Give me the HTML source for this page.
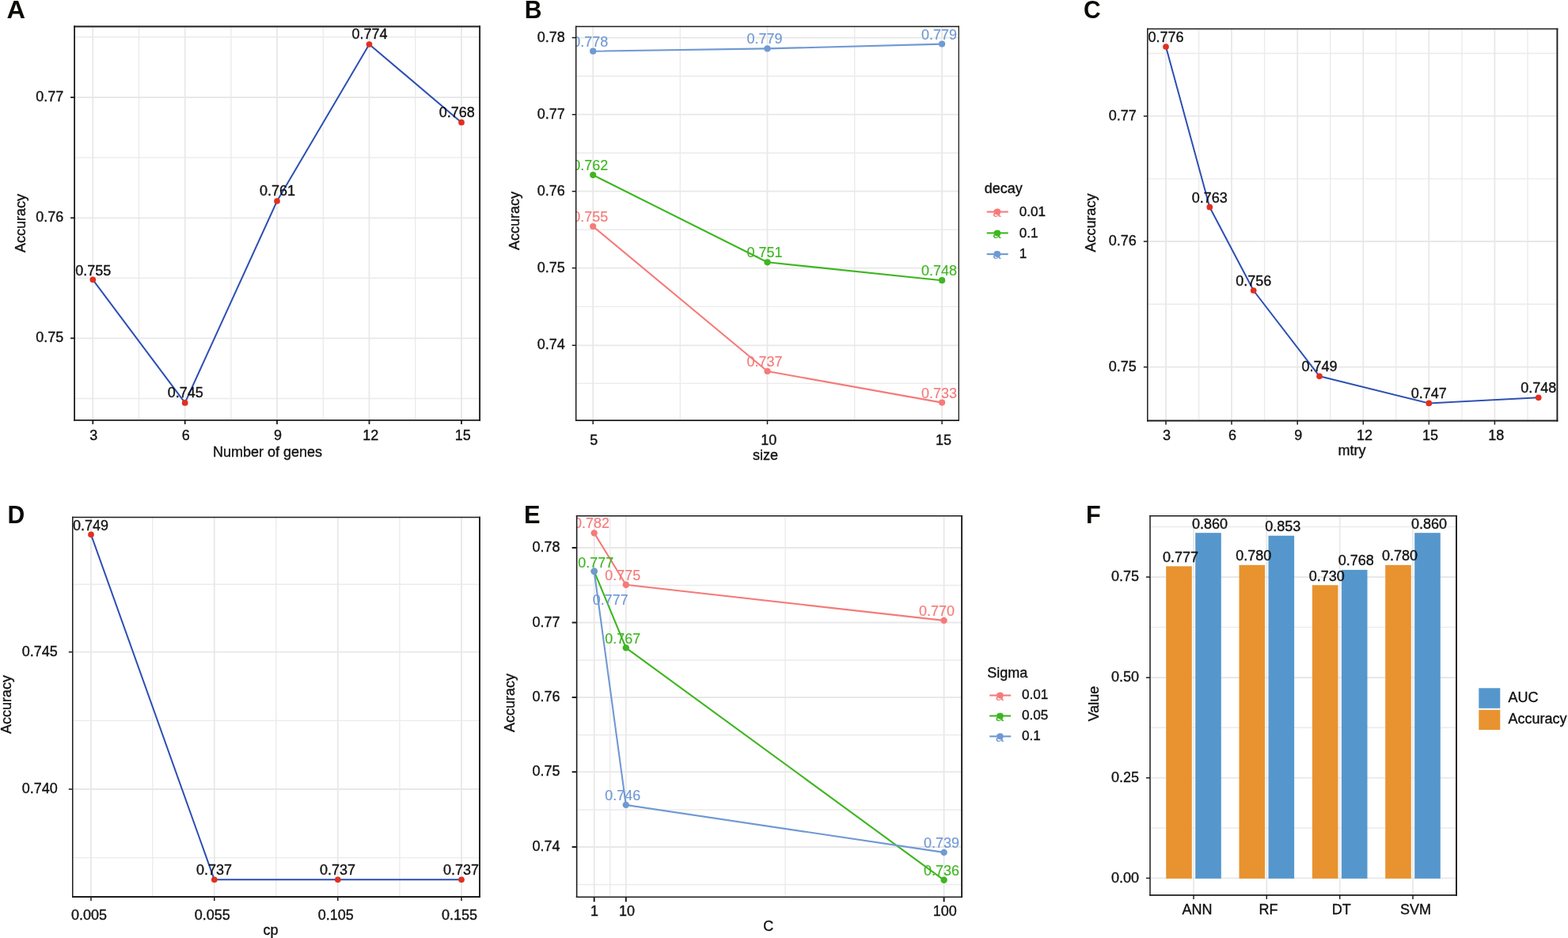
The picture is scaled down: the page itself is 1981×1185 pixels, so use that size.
<!DOCTYPE html>
<html lang="en">
<head>
<meta charset="utf-8">
<title>Figure: model tuning accuracy</title>
<style>
html, body { margin: 0; padding: 0; background: #ffffff; }
body { width: 1981px; height: 1185px; overflow: hidden; }
svg { display: block; font-family: 'Liberation Sans', sans-serif; }
</style>
</head>
<body>
<svg width="1981" height="1185" viewBox="0 0 1981 1185">
<rect width="1981" height="1185" fill="#ffffff"/>
<defs>
<clipPath id="c1"><rect x="94.1" y="33.5" width="512" height="497.4"/></clipPath>
<clipPath id="c2"><rect x="727.7" y="33.4" width="483.6" height="497.7"/></clipPath>
<clipPath id="c3"><rect x="1449.8" y="36.6" width="517.6" height="494.9"/></clipPath>
<clipPath id="c4"><rect x="91.75" y="653.5" width="514.25" height="479.5"/></clipPath>
<clipPath id="c5"><rect x="728.65" y="651.8" width="486.45" height="481.5"/></clipPath>
<clipPath id="c6"><rect x="1453" y="651.7" width="387" height="479.2"/></clipPath>
</defs>
<g clip-path="url(#c1)">
<line x1="175.5" y1="33.5" x2="175.5" y2="530.9" stroke="#ebebeb" stroke-width="1.4"/>
<line x1="291.9" y1="33.5" x2="291.9" y2="530.9" stroke="#ebebeb" stroke-width="1.4"/>
<line x1="408.3" y1="33.5" x2="408.3" y2="530.9" stroke="#ebebeb" stroke-width="1.4"/>
<line x1="524.7" y1="33.5" x2="524.7" y2="530.9" stroke="#ebebeb" stroke-width="1.4"/>
<line x1="94.1" y1="46.8" x2="606.1" y2="46.8" stroke="#ebebeb" stroke-width="1.4"/>
<line x1="94.1" y1="199.1" x2="606.1" y2="199.1" stroke="#ebebeb" stroke-width="1.4"/>
<line x1="94.1" y1="351.3" x2="606.1" y2="351.3" stroke="#ebebeb" stroke-width="1.4"/>
<line x1="94.1" y1="503.5" x2="606.1" y2="503.5" stroke="#ebebeb" stroke-width="1.4"/>
<line x1="117.3" y1="33.5" x2="117.3" y2="530.9" stroke="#e8e8e8" stroke-width="1.8"/>
<line x1="233.7" y1="33.5" x2="233.7" y2="530.9" stroke="#e8e8e8" stroke-width="1.8"/>
<line x1="350" y1="33.5" x2="350" y2="530.9" stroke="#e8e8e8" stroke-width="1.8"/>
<line x1="466.5" y1="33.5" x2="466.5" y2="530.9" stroke="#e8e8e8" stroke-width="1.8"/>
<line x1="583" y1="33.5" x2="583" y2="530.9" stroke="#e8e8e8" stroke-width="1.8"/>
<line x1="94.1" y1="123" x2="606.1" y2="123" stroke="#e8e8e8" stroke-width="1.8"/>
<line x1="94.1" y1="275.3" x2="606.1" y2="275.3" stroke="#e8e8e8" stroke-width="1.8"/>
<line x1="94.1" y1="427.3" x2="606.1" y2="427.3" stroke="#e8e8e8" stroke-width="1.8"/>
<polyline points="117.3,353.3 233.7,508.9 350,254 466.5,56 583,154.7" fill="none" stroke="#2d4fb3" stroke-width="2.0" stroke-linejoin="round"/>
<circle cx="117.3" cy="353.3" r="3.85" fill="#e0301e"/>
<circle cx="233.7" cy="508.9" r="3.85" fill="#e0301e"/>
<circle cx="350" cy="254" r="3.85" fill="#e0301e"/>
<circle cx="466.5" cy="56" r="3.85" fill="#e0301e"/>
<circle cx="583" cy="154.7" r="3.85" fill="#e0301e"/>
<text x="117.8" y="347.5" font-size="18" text-anchor="middle" fill="#111111" stroke="#111111" stroke-width="0.35">0.755</text>
<text x="234.2" y="501.9" font-size="18" text-anchor="middle" fill="#111111" stroke="#111111" stroke-width="0.35">0.745</text>
<text x="350.5" y="247" font-size="18" text-anchor="middle" fill="#111111" stroke="#111111" stroke-width="0.35">0.761</text>
<text x="467" y="49" font-size="18" text-anchor="middle" fill="#111111" stroke="#111111" stroke-width="0.35">0.774</text>
<text x="577.2" y="147.7" font-size="18" text-anchor="middle" fill="#111111" stroke="#111111" stroke-width="0.35">0.768</text>
</g>
<g stroke="#1c1c1c" fill="none">
<line x1="94.1" y1="32.6" x2="94.1" y2="531.85" stroke-width="1.8"/>
<line x1="606.1" y1="32.6" x2="606.1" y2="531.85" stroke-width="1.9"/>
<line x1="93.2" y1="33.5" x2="607.05" y2="33.5" stroke-width="1.8"/>
<line x1="93.2" y1="530.9" x2="607.05" y2="530.9" stroke-width="1.9"/>
</g>
<line x1="117.3" y1="530.9" x2="117.3" y2="535.9" stroke="#1c1c1c" stroke-width="1.8"/>
<text x="118.3" y="555.9" font-size="18" text-anchor="middle" fill="#111111" stroke="#111111" stroke-width="0.35">3</text>
<line x1="233.7" y1="530.9" x2="233.7" y2="535.9" stroke="#1c1c1c" stroke-width="1.8"/>
<text x="234.7" y="555.9" font-size="18" text-anchor="middle" fill="#111111" stroke="#111111" stroke-width="0.35">6</text>
<line x1="350" y1="530.9" x2="350" y2="535.9" stroke="#1c1c1c" stroke-width="1.8"/>
<text x="351" y="555.9" font-size="18" text-anchor="middle" fill="#111111" stroke="#111111" stroke-width="0.35">9</text>
<line x1="466.5" y1="530.9" x2="466.5" y2="535.9" stroke="#1c1c1c" stroke-width="1.8"/>
<text x="468.3" y="555.9" font-size="18" text-anchor="middle" fill="#111111" stroke="#111111" stroke-width="0.35">12</text>
<line x1="583" y1="530.9" x2="583" y2="535.9" stroke="#1c1c1c" stroke-width="1.8"/>
<text x="584.8" y="555.9" font-size="18" text-anchor="middle" fill="#111111" stroke="#111111" stroke-width="0.35">15</text>
<line x1="89.1" y1="123" x2="94.1" y2="123" stroke="#1c1c1c" stroke-width="1.8"/>
<text x="80.2" y="128.1" font-size="18" text-anchor="end" fill="#111111" stroke="#111111" stroke-width="0.35">0.77</text>
<line x1="89.1" y1="275.3" x2="94.1" y2="275.3" stroke="#1c1c1c" stroke-width="1.8"/>
<text x="80.2" y="280.4" font-size="18" text-anchor="end" fill="#111111" stroke="#111111" stroke-width="0.35">0.76</text>
<line x1="89.1" y1="427.3" x2="94.1" y2="427.3" stroke="#1c1c1c" stroke-width="1.8"/>
<text x="80.2" y="432.4" font-size="18" text-anchor="end" fill="#111111" stroke="#111111" stroke-width="0.35">0.75</text>
<text x="338.1" y="577" font-size="18" text-anchor="middle" fill="#111111" stroke="#111111" stroke-width="0.35">Number of genes</text>
<text x="32" y="282" font-size="18" text-anchor="middle" fill="#111111" stroke="#111111" stroke-width="0.35" transform="rotate(-90 32 282)">Accuracy</text>
<text transform="translate(8.4 23) scale(1.045 1)" font-size="31.2" font-weight="bold" fill="#0a0a06">A</text>
<g clip-path="url(#c2)">
<line x1="859.3" y1="33.4" x2="859.3" y2="531.1" stroke="#ebebeb" stroke-width="1.4"/>
<line x1="1079.7" y1="33.4" x2="1079.7" y2="531.1" stroke="#ebebeb" stroke-width="1.4"/>
<line x1="727.7" y1="96.2" x2="1211.3" y2="96.2" stroke="#ebebeb" stroke-width="1.4"/>
<line x1="727.7" y1="193.3" x2="1211.3" y2="193.3" stroke="#ebebeb" stroke-width="1.4"/>
<line x1="727.7" y1="290.2" x2="1211.3" y2="290.2" stroke="#ebebeb" stroke-width="1.4"/>
<line x1="727.7" y1="387.4" x2="1211.3" y2="387.4" stroke="#ebebeb" stroke-width="1.4"/>
<line x1="727.7" y1="484.4" x2="1211.3" y2="484.4" stroke="#ebebeb" stroke-width="1.4"/>
<line x1="749.2" y1="33.4" x2="749.2" y2="531.1" stroke="#e8e8e8" stroke-width="1.8"/>
<line x1="969.5" y1="33.4" x2="969.5" y2="531.1" stroke="#e8e8e8" stroke-width="1.8"/>
<line x1="1190.1" y1="33.4" x2="1190.1" y2="531.1" stroke="#e8e8e8" stroke-width="1.8"/>
<line x1="727.7" y1="47.6" x2="1211.3" y2="47.6" stroke="#e8e8e8" stroke-width="1.8"/>
<line x1="727.7" y1="144.7" x2="1211.3" y2="144.7" stroke="#e8e8e8" stroke-width="1.8"/>
<line x1="727.7" y1="241.7" x2="1211.3" y2="241.7" stroke="#e8e8e8" stroke-width="1.8"/>
<line x1="727.7" y1="338.6" x2="1211.3" y2="338.6" stroke="#e8e8e8" stroke-width="1.8"/>
<line x1="727.7" y1="436.3" x2="1211.3" y2="436.3" stroke="#e8e8e8" stroke-width="1.8"/>
<polyline points="749.2,286 969.5,469 1190.1,508.6" fill="none" stroke="#f57b79" stroke-width="2.1" stroke-linejoin="round"/>
<polyline points="749.2,221.1 969.5,331.3 1190.1,354.2" fill="none" stroke="#3eb621" stroke-width="2.1" stroke-linejoin="round"/>
<polyline points="749.2,64.7 969.5,61.4 1190.1,55.6" fill="none" stroke="#7099d3" stroke-width="2.1" stroke-linejoin="round"/>
<circle cx="749.2" cy="286" r="4.1" fill="#f57b79"/>
<circle cx="969.5" cy="469" r="4.1" fill="#f57b79"/>
<circle cx="1190.1" cy="508.6" r="4.1" fill="#f57b79"/>
<circle cx="749.2" cy="221.1" r="4.1" fill="#3eb621"/>
<circle cx="969.5" cy="331.3" r="4.1" fill="#3eb621"/>
<circle cx="1190.1" cy="354.2" r="4.1" fill="#3eb621"/>
<circle cx="749.2" cy="64.7" r="4.1" fill="#7099d3"/>
<circle cx="969.5" cy="61.4" r="4.1" fill="#7099d3"/>
<circle cx="1190.1" cy="55.6" r="4.1" fill="#7099d3"/>
<text x="745.7" y="280" font-size="18" text-anchor="middle" fill="#f57b79" stroke="#f57b79" stroke-width="0.15">0.755</text>
<text x="966" y="463" font-size="18" text-anchor="middle" fill="#f57b79" stroke="#f57b79" stroke-width="0.15">0.737</text>
<text x="1186.6" y="502.6" font-size="18" text-anchor="middle" fill="#f57b79" stroke="#f57b79" stroke-width="0.15">0.733</text>
<text x="745.7" y="215.1" font-size="18" text-anchor="middle" fill="#3eb621" stroke="#3eb621" stroke-width="0.15">0.762</text>
<text x="966" y="325.3" font-size="18" text-anchor="middle" fill="#3eb621" stroke="#3eb621" stroke-width="0.15">0.751</text>
<text x="1186.6" y="348.2" font-size="18" text-anchor="middle" fill="#3eb621" stroke="#3eb621" stroke-width="0.15">0.748</text>
<text x="745.7" y="58.7" font-size="18" text-anchor="middle" fill="#7099d3" stroke="#7099d3" stroke-width="0.15">0.778</text>
<text x="966" y="55.4" font-size="18" text-anchor="middle" fill="#7099d3" stroke="#7099d3" stroke-width="0.15">0.779</text>
<text x="1186.6" y="49.6" font-size="18" text-anchor="middle" fill="#7099d3" stroke="#7099d3" stroke-width="0.15">0.779</text>
</g>
<g stroke="#1c1c1c" fill="none">
<line x1="727.7" y1="32.65" x2="727.7" y2="531.9" stroke-width="1.5"/>
<line x1="1211.3" y1="32.65" x2="1211.3" y2="531.9" stroke-width="1.3"/>
<line x1="726.95" y1="33.4" x2="1211.95" y2="33.4" stroke-width="1.5"/>
<line x1="726.95" y1="531.1" x2="1211.95" y2="531.1" stroke-width="1.6"/>
</g>
<line x1="749.2" y1="531.1" x2="749.2" y2="536.1" stroke="#1c1c1c" stroke-width="1.5"/>
<text x="750.2" y="561.6" font-size="18" text-anchor="middle" fill="#111111" stroke="#111111" stroke-width="0.35">5</text>
<line x1="969.5" y1="531.1" x2="969.5" y2="536.1" stroke="#1c1c1c" stroke-width="1.5"/>
<text x="971.3" y="561.6" font-size="18" text-anchor="middle" fill="#111111" stroke="#111111" stroke-width="0.35">10</text>
<line x1="1190.1" y1="531.1" x2="1190.1" y2="536.1" stroke="#1c1c1c" stroke-width="1.5"/>
<text x="1191.9" y="561.6" font-size="18" text-anchor="middle" fill="#111111" stroke="#111111" stroke-width="0.35">15</text>
<line x1="722.7" y1="47.6" x2="727.7" y2="47.6" stroke="#1c1c1c" stroke-width="1.5"/>
<text x="713.8" y="52.7" font-size="18" text-anchor="end" fill="#111111" stroke="#111111" stroke-width="0.35">0.78</text>
<line x1="722.7" y1="144.7" x2="727.7" y2="144.7" stroke="#1c1c1c" stroke-width="1.5"/>
<text x="713.8" y="149.8" font-size="18" text-anchor="end" fill="#111111" stroke="#111111" stroke-width="0.35">0.77</text>
<line x1="722.7" y1="241.7" x2="727.7" y2="241.7" stroke="#1c1c1c" stroke-width="1.5"/>
<text x="713.8" y="246.8" font-size="18" text-anchor="end" fill="#111111" stroke="#111111" stroke-width="0.35">0.76</text>
<line x1="722.7" y1="338.6" x2="727.7" y2="338.6" stroke="#1c1c1c" stroke-width="1.5"/>
<text x="713.8" y="343.7" font-size="18" text-anchor="end" fill="#111111" stroke="#111111" stroke-width="0.35">0.75</text>
<line x1="722.7" y1="436.3" x2="727.7" y2="436.3" stroke="#1c1c1c" stroke-width="1.5"/>
<text x="713.8" y="441.4" font-size="18" text-anchor="end" fill="#111111" stroke="#111111" stroke-width="0.35">0.74</text>
<text x="967" y="581" font-size="18" text-anchor="middle" fill="#111111" stroke="#111111" stroke-width="0.35">size</text>
<text x="655.6" y="279" font-size="18" text-anchor="middle" fill="#111111" stroke="#111111" stroke-width="0.35" transform="rotate(-90 655.6 279)">Accuracy</text>
<text transform="translate(662.7 23) scale(0.965 1)" font-size="31.2" font-weight="bold" fill="#0a0a06">B</text>
<g clip-path="url(#c3)">
<line x1="1514.6" y1="36.6" x2="1514.6" y2="531.5" stroke="#ebebeb" stroke-width="1.4"/>
<line x1="1597.6" y1="36.6" x2="1597.6" y2="531.5" stroke="#ebebeb" stroke-width="1.4"/>
<line x1="1680.7" y1="36.6" x2="1680.7" y2="531.5" stroke="#ebebeb" stroke-width="1.4"/>
<line x1="1763.8" y1="36.6" x2="1763.8" y2="531.5" stroke="#ebebeb" stroke-width="1.4"/>
<line x1="1846.9" y1="36.6" x2="1846.9" y2="531.5" stroke="#ebebeb" stroke-width="1.4"/>
<line x1="1930" y1="36.6" x2="1930" y2="531.5" stroke="#ebebeb" stroke-width="1.4"/>
<line x1="1449.8" y1="67.5" x2="1967.4" y2="67.5" stroke="#ebebeb" stroke-width="1.4"/>
<line x1="1449.8" y1="225.9" x2="1967.4" y2="225.9" stroke="#ebebeb" stroke-width="1.4"/>
<line x1="1449.8" y1="384.3" x2="1967.4" y2="384.3" stroke="#ebebeb" stroke-width="1.4"/>
<line x1="1473" y1="36.6" x2="1473" y2="531.5" stroke="#e8e8e8" stroke-width="1.8"/>
<line x1="1556" y1="36.6" x2="1556" y2="531.5" stroke="#e8e8e8" stroke-width="1.8"/>
<line x1="1639.2" y1="36.6" x2="1639.2" y2="531.5" stroke="#e8e8e8" stroke-width="1.8"/>
<line x1="1722.3" y1="36.6" x2="1722.3" y2="531.5" stroke="#e8e8e8" stroke-width="1.8"/>
<line x1="1805.3" y1="36.6" x2="1805.3" y2="531.5" stroke="#e8e8e8" stroke-width="1.8"/>
<line x1="1888.4" y1="36.6" x2="1888.4" y2="531.5" stroke="#e8e8e8" stroke-width="1.8"/>
<line x1="1449.8" y1="146.7" x2="1967.4" y2="146.7" stroke="#e8e8e8" stroke-width="1.8"/>
<line x1="1449.8" y1="305" x2="1967.4" y2="305" stroke="#e8e8e8" stroke-width="1.8"/>
<line x1="1449.8" y1="463.7" x2="1967.4" y2="463.7" stroke="#e8e8e8" stroke-width="1.8"/>
<polyline points="1473,59 1528.3,261.7 1583.7,367 1667,475.3 1805.3,509.4 1943.7,502.3" fill="none" stroke="#2d4fb3" stroke-width="2.0" stroke-linejoin="round"/>
<circle cx="1473" cy="59" r="3.85" fill="#e0301e"/>
<circle cx="1528.3" cy="261.7" r="3.85" fill="#e0301e"/>
<circle cx="1583.7" cy="367" r="3.85" fill="#e0301e"/>
<circle cx="1667" cy="475.3" r="3.85" fill="#e0301e"/>
<circle cx="1805.3" cy="509.4" r="3.85" fill="#e0301e"/>
<circle cx="1943.7" cy="502.3" r="3.85" fill="#e0301e"/>
<text x="1473" y="52.8" font-size="18" text-anchor="middle" fill="#111111" stroke="#111111" stroke-width="0.35">0.776</text>
<text x="1528.3" y="255.5" font-size="18" text-anchor="middle" fill="#111111" stroke="#111111" stroke-width="0.35">0.763</text>
<text x="1583.7" y="360.8" font-size="18" text-anchor="middle" fill="#111111" stroke="#111111" stroke-width="0.35">0.756</text>
<text x="1667" y="469.1" font-size="18" text-anchor="middle" fill="#111111" stroke="#111111" stroke-width="0.35">0.749</text>
<text x="1805.3" y="503.2" font-size="18" text-anchor="middle" fill="#111111" stroke="#111111" stroke-width="0.35">0.747</text>
<text x="1943.7" y="496.1" font-size="18" text-anchor="middle" fill="#111111" stroke="#111111" stroke-width="0.35">0.748</text>
</g>
<g stroke="#1c1c1c" fill="none">
<line x1="1449.8" y1="35.85" x2="1449.8" y2="532.45" stroke-width="1.5"/>
<line x1="1967.4" y1="35.85" x2="1967.4" y2="532.45" stroke-width="1.9"/>
<line x1="1449.05" y1="36.6" x2="1968.35" y2="36.6" stroke-width="1.5"/>
<line x1="1449.05" y1="531.5" x2="1968.35" y2="531.5" stroke-width="1.9"/>
</g>
<line x1="1473" y1="531.5" x2="1473" y2="536.5" stroke="#1c1c1c" stroke-width="1.5"/>
<text x="1474" y="556.3" font-size="18" text-anchor="middle" fill="#111111" stroke="#111111" stroke-width="0.35">3</text>
<line x1="1556" y1="531.5" x2="1556" y2="536.5" stroke="#1c1c1c" stroke-width="1.5"/>
<text x="1557" y="556.3" font-size="18" text-anchor="middle" fill="#111111" stroke="#111111" stroke-width="0.35">6</text>
<line x1="1639.2" y1="531.5" x2="1639.2" y2="536.5" stroke="#1c1c1c" stroke-width="1.5"/>
<text x="1640.2" y="556.3" font-size="18" text-anchor="middle" fill="#111111" stroke="#111111" stroke-width="0.35">9</text>
<line x1="1722.3" y1="531.5" x2="1722.3" y2="536.5" stroke="#1c1c1c" stroke-width="1.5"/>
<text x="1724.1" y="556.3" font-size="18" text-anchor="middle" fill="#111111" stroke="#111111" stroke-width="0.35">12</text>
<line x1="1805.3" y1="531.5" x2="1805.3" y2="536.5" stroke="#1c1c1c" stroke-width="1.5"/>
<text x="1807.1" y="556.3" font-size="18" text-anchor="middle" fill="#111111" stroke="#111111" stroke-width="0.35">15</text>
<line x1="1888.4" y1="531.5" x2="1888.4" y2="536.5" stroke="#1c1c1c" stroke-width="1.5"/>
<text x="1890.2" y="556.3" font-size="18" text-anchor="middle" fill="#111111" stroke="#111111" stroke-width="0.35">18</text>
<line x1="1444.8" y1="146.7" x2="1449.8" y2="146.7" stroke="#1c1c1c" stroke-width="1.5"/>
<text x="1435.9" y="151.8" font-size="18" text-anchor="end" fill="#111111" stroke="#111111" stroke-width="0.35">0.77</text>
<line x1="1444.8" y1="305" x2="1449.8" y2="305" stroke="#1c1c1c" stroke-width="1.5"/>
<text x="1435.9" y="310.1" font-size="18" text-anchor="end" fill="#111111" stroke="#111111" stroke-width="0.35">0.76</text>
<line x1="1444.8" y1="463.7" x2="1449.8" y2="463.7" stroke="#1c1c1c" stroke-width="1.5"/>
<text x="1435.9" y="468.8" font-size="18" text-anchor="end" fill="#111111" stroke="#111111" stroke-width="0.35">0.75</text>
<text x="1708" y="575" font-size="18" text-anchor="middle" fill="#111111" stroke="#111111" stroke-width="0.35">mtry</text>
<text x="1384" y="281.4" font-size="18" text-anchor="middle" fill="#111111" stroke="#111111" stroke-width="0.35" transform="rotate(-90 1384 281.4)">Accuracy</text>
<text transform="translate(1368.9 23) scale(0.96 1)" font-size="31.2" font-weight="bold" fill="#0a0a06">C</text>
<g clip-path="url(#c4)">
<line x1="192.8" y1="653.5" x2="192.8" y2="1133" stroke="#ebebeb" stroke-width="1.4"/>
<line x1="348.9" y1="653.5" x2="348.9" y2="1133" stroke="#ebebeb" stroke-width="1.4"/>
<line x1="504.9" y1="653.5" x2="504.9" y2="1133" stroke="#ebebeb" stroke-width="1.4"/>
<line x1="91.75" y1="738.2" x2="606" y2="738.2" stroke="#ebebeb" stroke-width="1.4"/>
<line x1="91.75" y1="910.4" x2="606" y2="910.4" stroke="#ebebeb" stroke-width="1.4"/>
<line x1="91.75" y1="1083.6" x2="606" y2="1083.6" stroke="#ebebeb" stroke-width="1.4"/>
<line x1="115" y1="653.5" x2="115" y2="1133" stroke="#e8e8e8" stroke-width="1.8"/>
<line x1="270.8" y1="653.5" x2="270.8" y2="1133" stroke="#e8e8e8" stroke-width="1.8"/>
<line x1="426.8" y1="653.5" x2="426.8" y2="1133" stroke="#e8e8e8" stroke-width="1.8"/>
<line x1="583" y1="653.5" x2="583" y2="1133" stroke="#e8e8e8" stroke-width="1.8"/>
<line x1="91.75" y1="823.7" x2="606" y2="823.7" stroke="#e8e8e8" stroke-width="1.8"/>
<line x1="91.75" y1="997" x2="606" y2="997" stroke="#e8e8e8" stroke-width="1.8"/>
<polyline points="115,675.3 270.8,1111.3 426.8,1111.3 583,1111.3" fill="none" stroke="#2d4fb3" stroke-width="2.0" stroke-linejoin="round"/>
<circle cx="115" cy="675.3" r="3.85" fill="#e0301e"/>
<circle cx="270.8" cy="1111.3" r="3.85" fill="#e0301e"/>
<circle cx="426.8" cy="1111.3" r="3.85" fill="#e0301e"/>
<circle cx="583" cy="1111.3" r="3.85" fill="#e0301e"/>
<text x="114.6" y="670.3" font-size="18" text-anchor="middle" fill="#111111" stroke="#111111" stroke-width="0.35">0.749</text>
<text x="270.4" y="1105.1" font-size="18" text-anchor="middle" fill="#111111" stroke="#111111" stroke-width="0.35">0.737</text>
<text x="426.4" y="1105.1" font-size="18" text-anchor="middle" fill="#111111" stroke="#111111" stroke-width="0.35">0.737</text>
<text x="582.6" y="1105.1" font-size="18" text-anchor="middle" fill="#111111" stroke="#111111" stroke-width="0.35">0.737</text>
</g>
<g stroke="#1c1c1c" fill="none">
<line x1="91.75" y1="652.75" x2="91.75" y2="1133.95" stroke-width="1.5"/>
<line x1="606" y1="652.75" x2="606" y2="1133.95" stroke-width="1.9"/>
<line x1="91" y1="653.5" x2="606.95" y2="653.5" stroke-width="1.5"/>
<line x1="91" y1="1133" x2="606.95" y2="1133" stroke-width="1.9"/>
</g>
<line x1="115" y1="1133" x2="115" y2="1138" stroke="#1c1c1c" stroke-width="1.5"/>
<text x="112.4" y="1161.6" font-size="18" text-anchor="middle" fill="#111111" stroke="#111111" stroke-width="0.35">0.005</text>
<line x1="270.8" y1="1133" x2="270.8" y2="1138" stroke="#1c1c1c" stroke-width="1.5"/>
<text x="268.2" y="1161.6" font-size="18" text-anchor="middle" fill="#111111" stroke="#111111" stroke-width="0.35">0.055</text>
<line x1="426.8" y1="1133" x2="426.8" y2="1138" stroke="#1c1c1c" stroke-width="1.5"/>
<text x="424.2" y="1161.6" font-size="18" text-anchor="middle" fill="#111111" stroke="#111111" stroke-width="0.35">0.105</text>
<line x1="583" y1="1133" x2="583" y2="1138" stroke="#1c1c1c" stroke-width="1.5"/>
<text x="580.4" y="1161.6" font-size="18" text-anchor="middle" fill="#111111" stroke="#111111" stroke-width="0.35">0.155</text>
<line x1="86.75" y1="823.7" x2="91.75" y2="823.7" stroke="#1c1c1c" stroke-width="1.5"/>
<text x="72.75" y="828.8" font-size="18" text-anchor="end" fill="#111111" stroke="#111111" stroke-width="0.35">0.745</text>
<line x1="86.75" y1="997" x2="91.75" y2="997" stroke="#1c1c1c" stroke-width="1.5"/>
<text x="72.75" y="1002.1" font-size="18" text-anchor="end" fill="#111111" stroke="#111111" stroke-width="0.35">0.740</text>
<text x="342" y="1181" font-size="18" text-anchor="middle" fill="#111111" stroke="#111111" stroke-width="0.35">cp</text>
<text x="14" y="890" font-size="18" text-anchor="middle" fill="#111111" stroke="#111111" stroke-width="0.35" transform="rotate(-90 14 890)">Accuracy</text>
<text transform="translate(9.4 661) scale(0.965 1)" font-size="31.2" font-weight="bold" fill="#0a0a06">D</text>
<g clip-path="url(#c5)">
<line x1="770.8" y1="651.8" x2="770.8" y2="1133.3" stroke="#ebebeb" stroke-width="1.4"/>
<line x1="992.1" y1="651.8" x2="992.1" y2="1133.3" stroke="#ebebeb" stroke-width="1.4"/>
<line x1="728.65" y1="739.5" x2="1215.1" y2="739.5" stroke="#ebebeb" stroke-width="1.4"/>
<line x1="728.65" y1="834" x2="1215.1" y2="834" stroke="#ebebeb" stroke-width="1.4"/>
<line x1="728.65" y1="928.5" x2="1215.1" y2="928.5" stroke="#ebebeb" stroke-width="1.4"/>
<line x1="728.65" y1="1023" x2="1215.1" y2="1023" stroke="#ebebeb" stroke-width="1.4"/>
<line x1="728.65" y1="1117.5" x2="1215.1" y2="1117.5" stroke="#ebebeb" stroke-width="1.4"/>
<line x1="750.7" y1="651.8" x2="750.7" y2="1133.3" stroke="#e8e8e8" stroke-width="1.8"/>
<line x1="790.8" y1="651.8" x2="790.8" y2="1133.3" stroke="#e8e8e8" stroke-width="1.8"/>
<line x1="1192.6" y1="651.8" x2="1192.6" y2="1133.3" stroke="#e8e8e8" stroke-width="1.8"/>
<line x1="728.65" y1="692" x2="1215.1" y2="692" stroke="#e8e8e8" stroke-width="1.8"/>
<line x1="728.65" y1="786.5" x2="1215.1" y2="786.5" stroke="#e8e8e8" stroke-width="1.8"/>
<line x1="728.65" y1="881" x2="1215.1" y2="881" stroke="#e8e8e8" stroke-width="1.8"/>
<line x1="728.65" y1="975.2" x2="1215.1" y2="975.2" stroke="#e8e8e8" stroke-width="1.8"/>
<line x1="728.65" y1="1070" x2="1215.1" y2="1070" stroke="#e8e8e8" stroke-width="1.8"/>
<polyline points="750.7,673.4 790.8,738.8 1192.6,783.9" fill="none" stroke="#f57b79" stroke-width="2.1" stroke-linejoin="round"/>
<polyline points="750.7,721.8 790.8,818.4 1192.6,1111.8" fill="none" stroke="#3eb621" stroke-width="2.1" stroke-linejoin="round"/>
<polyline points="750.7,721.8 790.8,1016.9 1192.6,1076.9" fill="none" stroke="#7099d3" stroke-width="2.1" stroke-linejoin="round"/>
<circle cx="750.7" cy="673.4" r="4.2" fill="#f57b79"/>
<circle cx="790.8" cy="738.8" r="4.2" fill="#f57b79"/>
<circle cx="1192.6" cy="783.9" r="4.2" fill="#f57b79"/>
<circle cx="750.7" cy="721.8" r="4.2" fill="#3eb621"/>
<circle cx="790.8" cy="818.4" r="4.2" fill="#3eb621"/>
<circle cx="1192.6" cy="1111.8" r="4.2" fill="#3eb621"/>
<circle cx="750.7" cy="721.8" r="4.2" fill="#7099d3"/>
<circle cx="790.8" cy="1016.9" r="4.2" fill="#7099d3"/>
<circle cx="1192.6" cy="1076.9" r="4.2" fill="#7099d3"/>
<text x="747.5" y="667.2" font-size="18" text-anchor="middle" fill="#f57b79" stroke="#f57b79" stroke-width="0.15">0.782</text>
<text x="786.8" y="732.8" font-size="18" text-anchor="middle" fill="#f57b79" stroke="#f57b79" stroke-width="0.15">0.775</text>
<text x="1183.6" y="777.7" font-size="18" text-anchor="middle" fill="#f57b79" stroke="#f57b79" stroke-width="0.15">0.770</text>
<text x="752.7" y="717.1" font-size="18" text-anchor="middle" fill="#3eb621" stroke="#3eb621" stroke-width="0.15">0.777</text>
<text x="786.8" y="812.8" font-size="18" text-anchor="middle" fill="#3eb621" stroke="#3eb621" stroke-width="0.15">0.767</text>
<text x="1189.6" y="1105.6" font-size="18" text-anchor="middle" fill="#3eb621" stroke="#3eb621" stroke-width="0.15">0.736</text>
<text x="771.2" y="763.6" font-size="18" text-anchor="middle" fill="#7099d3" stroke="#7099d3" stroke-width="0.15">0.777</text>
<text x="786.8" y="1010.7" font-size="18" text-anchor="middle" fill="#7099d3" stroke="#7099d3" stroke-width="0.15">0.746</text>
<text x="1189.6" y="1070.7" font-size="18" text-anchor="middle" fill="#7099d3" stroke="#7099d3" stroke-width="0.15">0.739</text>
</g>
<g stroke="#1c1c1c" fill="none">
<line x1="728.65" y1="651.05" x2="728.65" y2="1134.05" stroke-width="1.6"/>
<line x1="1215.1" y1="651.05" x2="1215.1" y2="1134.05" stroke-width="1.9"/>
<line x1="727.85" y1="651.8" x2="1216.05" y2="651.8" stroke-width="1.5"/>
<line x1="727.85" y1="1133.3" x2="1216.05" y2="1133.3" stroke-width="1.5"/>
</g>
<line x1="750.7" y1="1133.3" x2="750.7" y2="1139.3" stroke="#1c1c1c" stroke-width="2.0"/>
<text x="751" y="1157.1" font-size="18" text-anchor="middle" fill="#111111" stroke="#111111" stroke-width="0.35">1</text>
<line x1="790.8" y1="1133.3" x2="790.8" y2="1139.3" stroke="#1c1c1c" stroke-width="2.0"/>
<text x="791.9" y="1157.1" font-size="18" text-anchor="middle" fill="#111111" stroke="#111111" stroke-width="0.35">10</text>
<line x1="1192.6" y1="1133.3" x2="1192.6" y2="1139.3" stroke="#1c1c1c" stroke-width="2.0"/>
<text x="1193.7" y="1157.1" font-size="18" text-anchor="middle" fill="#111111" stroke="#111111" stroke-width="0.35">100</text>
<line x1="722.65" y1="692" x2="728.65" y2="692" stroke="#1c1c1c" stroke-width="2.0"/>
<text x="707.55" y="697.1" font-size="18" text-anchor="end" fill="#111111" stroke="#111111" stroke-width="0.35">0.78</text>
<line x1="722.65" y1="786.5" x2="728.65" y2="786.5" stroke="#1c1c1c" stroke-width="2.0"/>
<text x="707.55" y="791.6" font-size="18" text-anchor="end" fill="#111111" stroke="#111111" stroke-width="0.35">0.77</text>
<line x1="722.65" y1="881" x2="728.65" y2="881" stroke="#1c1c1c" stroke-width="2.0"/>
<text x="707.55" y="886.1" font-size="18" text-anchor="end" fill="#111111" stroke="#111111" stroke-width="0.35">0.76</text>
<line x1="722.65" y1="975.2" x2="728.65" y2="975.2" stroke="#1c1c1c" stroke-width="2.0"/>
<text x="707.55" y="980.3" font-size="18" text-anchor="end" fill="#111111" stroke="#111111" stroke-width="0.35">0.75</text>
<line x1="722.65" y1="1070" x2="728.65" y2="1070" stroke="#1c1c1c" stroke-width="2.0"/>
<text x="707.55" y="1075.1" font-size="18" text-anchor="end" fill="#111111" stroke="#111111" stroke-width="0.35">0.74</text>
<text x="970.8" y="1176" font-size="18" text-anchor="middle" fill="#111111" stroke="#111111" stroke-width="0.35">C</text>
<text x="650.4" y="888" font-size="18" text-anchor="middle" fill="#111111" stroke="#111111" stroke-width="0.35" transform="rotate(-90 650.4 888)">Accuracy</text>
<text transform="translate(662.1 661) scale(0.988 1)" font-size="31.2" font-weight="bold" fill="#0a0a06">E</text>
<g clip-path="url(#c6)">
<line x1="1453" y1="665.5" x2="1840" y2="665.5" stroke="#ebebeb" stroke-width="1.4"/>
<line x1="1453" y1="792.4" x2="1840" y2="792.4" stroke="#ebebeb" stroke-width="1.4"/>
<line x1="1453" y1="919.3" x2="1840" y2="919.3" stroke="#ebebeb" stroke-width="1.4"/>
<line x1="1453" y1="1046" x2="1840" y2="1046" stroke="#ebebeb" stroke-width="1.4"/>
<line x1="1508" y1="651.7" x2="1508" y2="1130.9" stroke="#e8e8e8" stroke-width="1.8"/>
<line x1="1600.3" y1="651.7" x2="1600.3" y2="1130.9" stroke="#e8e8e8" stroke-width="1.8"/>
<line x1="1692.7" y1="651.7" x2="1692.7" y2="1130.9" stroke="#e8e8e8" stroke-width="1.8"/>
<line x1="1785" y1="651.7" x2="1785" y2="1130.9" stroke="#e8e8e8" stroke-width="1.8"/>
<line x1="1453" y1="729" x2="1840" y2="729" stroke="#e8e8e8" stroke-width="1.8"/>
<line x1="1453" y1="856" x2="1840" y2="856" stroke="#e8e8e8" stroke-width="1.8"/>
<line x1="1453" y1="982.7" x2="1840" y2="982.7" stroke="#e8e8e8" stroke-width="1.8"/>
<line x1="1453" y1="1109.4" x2="1840" y2="1109.4" stroke="#e8e8e8" stroke-width="1.8"/>
<rect x="1473.2" y="715.34" width="32.6" height="394.56" fill="#e8932f"/>
<rect x="1510.2" y="673.19" width="32.6" height="436.71" fill="#5597cc"/>
<rect x="1565.5" y="713.82" width="32.6" height="396.08" fill="#e8932f"/>
<rect x="1602.5" y="676.75" width="32.6" height="433.15" fill="#5597cc"/>
<rect x="1657.9" y="739.21" width="32.6" height="370.69" fill="#e8932f"/>
<rect x="1694.9" y="719.91" width="32.6" height="389.99" fill="#5597cc"/>
<rect x="1750.2" y="713.82" width="32.6" height="396.08" fill="#e8932f"/>
<rect x="1787.2" y="673.19" width="32.6" height="436.71" fill="#5597cc"/>
<text x="1491.5" y="709.84" font-size="18" text-anchor="middle" fill="#111111" stroke="#111111" stroke-width="0.35">0.777</text>
<text x="1528.5" y="667.69" font-size="18" text-anchor="middle" fill="#111111" stroke="#111111" stroke-width="0.35">0.860</text>
<text x="1583.8" y="708.32" font-size="18" text-anchor="middle" fill="#111111" stroke="#111111" stroke-width="0.35">0.780</text>
<text x="1620.8" y="671.25" font-size="18" text-anchor="middle" fill="#111111" stroke="#111111" stroke-width="0.35">0.853</text>
<text x="1676.2" y="733.71" font-size="18" text-anchor="middle" fill="#111111" stroke="#111111" stroke-width="0.35">0.730</text>
<text x="1713.2" y="714.41" font-size="18" text-anchor="middle" fill="#111111" stroke="#111111" stroke-width="0.35">0.768</text>
<text x="1768.5" y="708.32" font-size="18" text-anchor="middle" fill="#111111" stroke="#111111" stroke-width="0.35">0.780</text>
<text x="1805.5" y="667.69" font-size="18" text-anchor="middle" fill="#111111" stroke="#111111" stroke-width="0.35">0.860</text>
</g>
<g stroke="#1c1c1c" fill="none">
<line x1="1453" y1="650.95" x2="1453" y2="1131.85" stroke-width="1.5"/>
<line x1="1840" y1="650.95" x2="1840" y2="1131.85" stroke-width="1.9"/>
<line x1="1452.25" y1="651.7" x2="1840.95" y2="651.7" stroke-width="1.5"/>
<line x1="1452.25" y1="1130.9" x2="1840.95" y2="1130.9" stroke-width="1.9"/>
</g>
<line x1="1508" y1="1130.9" x2="1508" y2="1135.9" stroke="#1c1c1c" stroke-width="1.5"/>
<text x="1512.5" y="1154.9" font-size="18" text-anchor="middle" fill="#111111" stroke="#111111" stroke-width="0.35">ANN</text>
<line x1="1600.3" y1="1130.9" x2="1600.3" y2="1135.9" stroke="#1c1c1c" stroke-width="1.5"/>
<text x="1602.4" y="1154.9" font-size="18" text-anchor="middle" fill="#111111" stroke="#111111" stroke-width="0.35">RF</text>
<line x1="1692.7" y1="1130.9" x2="1692.7" y2="1135.9" stroke="#1c1c1c" stroke-width="1.5"/>
<text x="1694.8" y="1154.9" font-size="18" text-anchor="middle" fill="#111111" stroke="#111111" stroke-width="0.35">DT</text>
<line x1="1785" y1="1130.9" x2="1785" y2="1135.9" stroke="#1c1c1c" stroke-width="1.5"/>
<text x="1788.5" y="1154.9" font-size="18" text-anchor="middle" fill="#111111" stroke="#111111" stroke-width="0.35">SVM</text>
<line x1="1448" y1="729" x2="1453" y2="729" stroke="#1c1c1c" stroke-width="1.5"/>
<text x="1439.1" y="734.1" font-size="18" text-anchor="end" fill="#111111" stroke="#111111" stroke-width="0.35">0.75</text>
<line x1="1448" y1="856" x2="1453" y2="856" stroke="#1c1c1c" stroke-width="1.5"/>
<text x="1439.1" y="861.1" font-size="18" text-anchor="end" fill="#111111" stroke="#111111" stroke-width="0.35">0.50</text>
<line x1="1448" y1="982.7" x2="1453" y2="982.7" stroke="#1c1c1c" stroke-width="1.5"/>
<text x="1439.1" y="987.8" font-size="18" text-anchor="end" fill="#111111" stroke="#111111" stroke-width="0.35">0.25</text>
<line x1="1448" y1="1109.4" x2="1453" y2="1109.4" stroke="#1c1c1c" stroke-width="1.5"/>
<text x="1439.1" y="1114.5" font-size="18" text-anchor="end" fill="#111111" stroke="#111111" stroke-width="0.35">0.00</text>
<text x="-100" y="-100" font-size="18" text-anchor="middle" fill="#111111" stroke="#111111" stroke-width="0.35"></text>
<text x="1388" y="889" font-size="18" text-anchor="middle" fill="#111111" stroke="#111111" stroke-width="0.35" transform="rotate(-90 1388 889)">Value</text>
<text transform="translate(1372.1 661) scale(0.983 1)" font-size="31.2" font-weight="bold" fill="#0a0a06">F</text>
<text x="1243.7" y="243.8" font-size="18" text-anchor="start" fill="#111111" stroke="#111111" stroke-width="0.35">decay</text>
<line x1="1246.7" y1="267.6" x2="1273.7" y2="267.6" stroke="#f57b79" stroke-width="2.1"/>
<circle cx="1260.2" cy="267.6" r="4.0" fill="#f57b79"/>
<text x="1259.45" y="273.9" font-size="18.6" text-anchor="middle" fill="#f57b79" stroke="#f57b79" stroke-width="0">a</text>
<text x="1287.7" y="272.7" font-size="17.1" text-anchor="start" fill="#111111" stroke="#111111" stroke-width="0.35">0.01</text>
<line x1="1246.7" y1="294.4" x2="1273.7" y2="294.4" stroke="#3eb621" stroke-width="2.1"/>
<circle cx="1260.2" cy="294.4" r="4.0" fill="#3eb621"/>
<text x="1259.45" y="300.7" font-size="18.6" text-anchor="middle" fill="#3eb621" stroke="#3eb621" stroke-width="0">a</text>
<text x="1287.7" y="299.5" font-size="17.1" text-anchor="start" fill="#111111" stroke="#111111" stroke-width="0.35">0.1</text>
<line x1="1246.7" y1="321.1" x2="1273.7" y2="321.1" stroke="#7099d3" stroke-width="2.1"/>
<circle cx="1260.2" cy="321.1" r="4.0" fill="#7099d3"/>
<text x="1259.45" y="327.4" font-size="18.6" text-anchor="middle" fill="#7099d3" stroke="#7099d3" stroke-width="0">a</text>
<text x="1287.7" y="326.2" font-size="17.1" text-anchor="start" fill="#111111" stroke="#111111" stroke-width="0.35">1</text>
<text x="1247.2" y="855.7" font-size="18" text-anchor="start" fill="#111111" stroke="#111111" stroke-width="0.35">Sigma</text>
<line x1="1250.2" y1="878.5" x2="1277.2" y2="878.5" stroke="#f57b79" stroke-width="2.1"/>
<circle cx="1263.7" cy="878.5" r="4.0" fill="#f57b79"/>
<text x="1262.95" y="884.8" font-size="18.6" text-anchor="middle" fill="#f57b79" stroke="#f57b79" stroke-width="0">a</text>
<text x="1291.1" y="883" font-size="17.1" text-anchor="start" fill="#111111" stroke="#111111" stroke-width="0.35">0.01</text>
<line x1="1250.2" y1="904.4" x2="1277.2" y2="904.4" stroke="#3eb621" stroke-width="2.1"/>
<circle cx="1263.7" cy="904.4" r="4.0" fill="#3eb621"/>
<text x="1262.95" y="910.7" font-size="18.6" text-anchor="middle" fill="#3eb621" stroke="#3eb621" stroke-width="0">a</text>
<text x="1291.1" y="908.9" font-size="17.1" text-anchor="start" fill="#111111" stroke="#111111" stroke-width="0.35">0.05</text>
<line x1="1250.2" y1="930.3" x2="1277.2" y2="930.3" stroke="#7099d3" stroke-width="2.1"/>
<circle cx="1263.7" cy="930.3" r="4.0" fill="#7099d3"/>
<text x="1262.95" y="936.6" font-size="18.6" text-anchor="middle" fill="#7099d3" stroke="#7099d3" stroke-width="0">a</text>
<text x="1291.1" y="934.8" font-size="17.1" text-anchor="start" fill="#111111" stroke="#111111" stroke-width="0.35">0.1</text>
<rect x="1868.3" y="869.3" width="27" height="25.5" fill="#5597cc"/>
<rect x="1868.3" y="896.8" width="27" height="25.2" fill="#e8932f"/>
<text x="1905.4" y="886.7" font-size="18" text-anchor="start" fill="#111111" stroke="#111111" stroke-width="0.35">AUC</text>
<text x="1905.4" y="913.8" font-size="18" text-anchor="start" fill="#111111" stroke="#111111" stroke-width="0.35">Accuracy</text>
</svg>
</body>
</html>
